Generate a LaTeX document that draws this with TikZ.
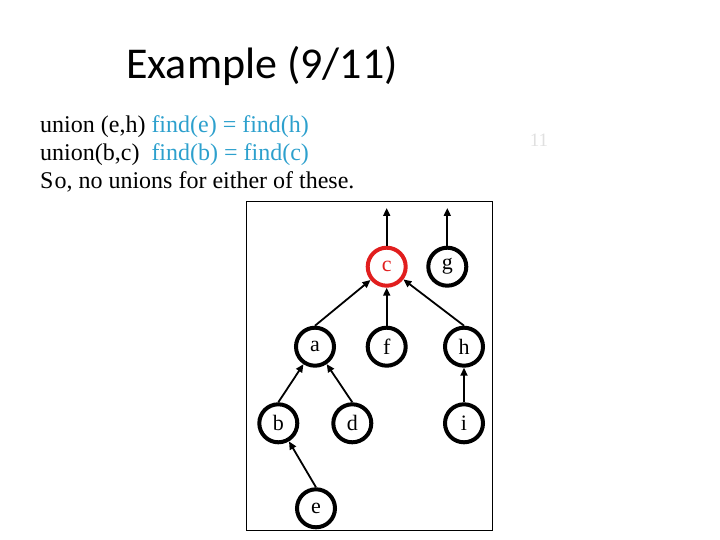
\documentclass[tikz,border=0pt]{standalone}
\usepackage{fontspec}
\setmainfont{Liberation Serif}
\newfontfamily\titlefont{Carlito}
\usetikzlibrary{arrows.meta}
\definecolor{findblue}{RGB}{45,160,205}
\definecolor{nodered}{RGB}{225,30,30}
\begin{document}
\begin{tikzpicture}[x=1pt,y=-1pt,
  vtx/.style={circle,draw=black,line width=4pt,minimum size=38pt,inner sep=0pt,font=\fontsize{22}{24}\selectfont},
  edge/.style={line width=1.8pt,-{Triangle[length=8pt,width=7pt]}},
  body/.style={anchor=base west,inner sep=0pt,font=\fontsize{24}{26}\selectfont}]
\useasboundingbox (0,0) rectangle (720,540);
\node[anchor=base west,inner sep=0pt,font=\titlefont\fontsize{44}{48}\selectfont] (title) at (126,79) {Example (9/11)};
\node[body] (l1) at (40,133) {union (e,h) \textcolor{findblue}{find(e) = find(h)}};
\node[body] (l2) at (40,161) {union(b,c)\ \ \textcolor{findblue}{find(b) = find(c)}};
\node[body] (l3) at (40,189) {S\kern1pt o, no unions for either of these.};
\node[anchor=base,inner sep=0pt,text=black!12,font=\fontsize{19}{21}\selectfont] (pg) at (539,147) {11};
\draw[line width=0.8pt] (246,201) rectangle (492,530);
\node[vtx,draw=nodered,text=nodered] (c) at (386.7,266.7) {c};
\node[vtx] (g) at (447.3,266.7) {g};
\node[vtx] (a) at (315,346.7) {a};
\node[vtx] (f) at (386.7,346.7) {f};
\node[vtx] (h) at (464,346.7) {h};
\node[vtx] (b) at (278.3,423.3) {b};
\node[vtx] (d) at (352.3,423.3) {d};
\node[vtx] (i) at (464,423.3) {i};
\node[vtx] (e) at (316,508.3) {e};
\coordinate (ctop) at (386.7,208);
\coordinate (gtop) at (447.3,208);
\draw[edge] (c) -- (ctop);
\draw[edge] (g) -- (gtop);
\draw[edge] (a.north) -- (c);
\draw[edge] (f) -- (c);
\draw[edge] (h.north) -- (c);
\draw[edge] (b.north) -- (a);
\draw[edge] (d.north) -- (a);
\draw[edge] (i) -- (h);
\draw[edge] (e.north) -- (b);
\end{tikzpicture}
\end{document}
